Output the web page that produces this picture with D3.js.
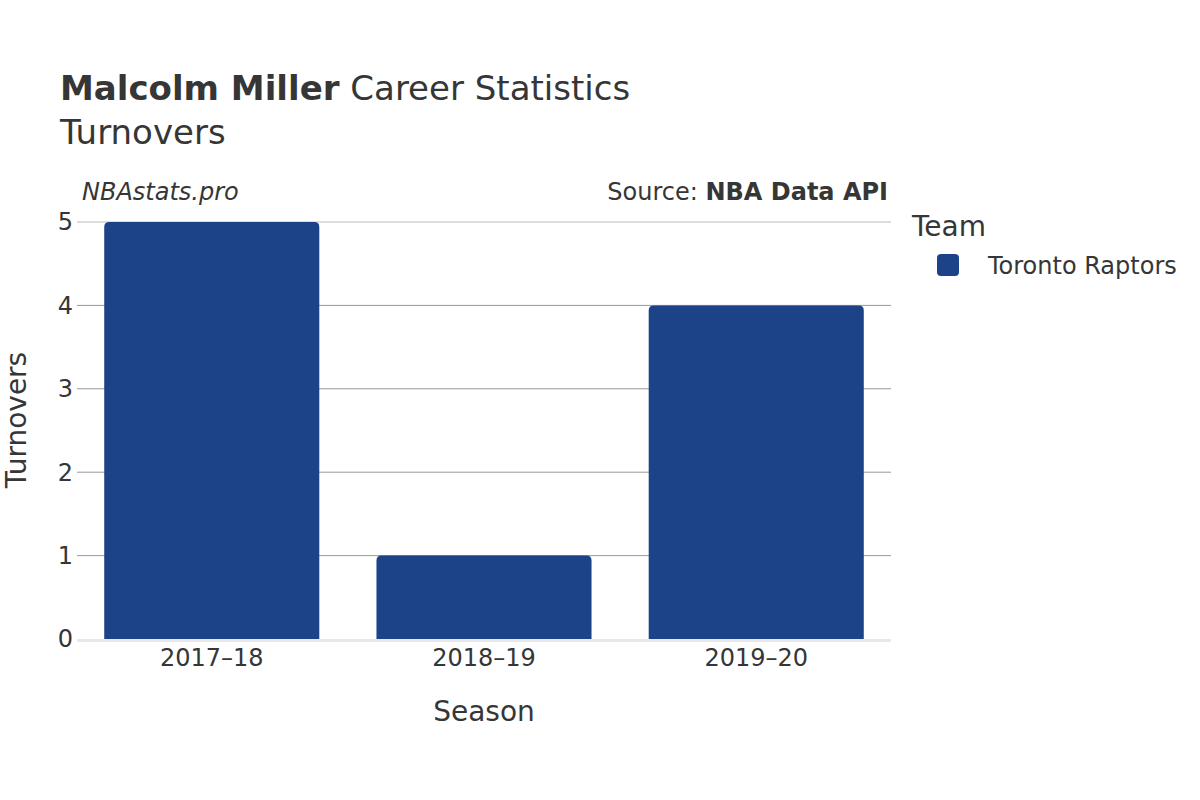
<!DOCTYPE html>
<html><head><meta charset="utf-8">
<script src="https://cdn.jsdelivr.net/npm/d3@7"></script>
<style>body{margin:0;background:#fff;} text{font-family:"DejaVu Sans",sans-serif;fill:#363636;}</style>
</head><body>
<svg id="c" width="1200" height="800"></svg>
<script>
const seasons = ["2017–18", "2018–19", "2019–20"];
const turnovers = [5, 1, 4];
const yTicks = [0, 1, 2, 3, 4, 5];
const teams = ["Toronto Raptors"];
const teamColors = ["#1c4288"];

const svg = d3.select("#c");
const m = {l: 77, r: 891, t: 222, b: 639};
const x = d3.scaleBand().domain(seasons).range([m.l, m.r]).paddingInner(0.21).paddingOuter(0.1);
const y = d3.scaleLinear().domain([0, 5]).range([m.b, m.t]);

// gridlines
svg.append("g").selectAll("line").data(yTicks.filter(d => d > 0)).join("line")
  .attr("x1", m.l).attr("x2", m.r).attr("y1", d => y(d)).attr("y2", d => y(d))
  .attr("stroke", d => d === 5 ? "#bbb" : "#999").attr("stroke-width", 1);

// bars with rounded top
const r = 5;
svg.append("g").selectAll("path").data(turnovers).join("path")
  .attr("fill", teamColors[0])
  .attr("d", (d, i) => {
    const x0 = x(seasons[i]), w = x.bandwidth(), y0 = y(d), yb = y(0);
    return `M${x0},${yb}V${y0 + r}Q${x0},${y0} ${x0 + r},${y0}H${x0 + w - r}Q${x0 + w},${y0} ${x0 + w},${y0 + r}V${yb}Z`;
  });

// zero line
svg.append("line").attr("x1", m.l).attr("x2", m.r).attr("y1", y(0) + 1.5).attr("y2", y(0) + 1.5)
  .attr("stroke", "#e8e8e8").attr("stroke-width", 3);

// y tick labels
svg.append("g").selectAll("text").data(yTicks).join("text")
  .attr("x", 73).attr("y", d => y(d)).attr("dy", "0.35em").attr("text-anchor", "end")
  .attr("font-size", 24).text(d => d);

// x tick labels
svg.append("g").selectAll("text").data(seasons).join("text")
  .attr("x", d => x(d) + x.bandwidth() / 2).attr("y", 666).attr("text-anchor", "middle")
  .attr("font-size", 24).text(d => d);

// axis titles
svg.append("text").attr("x", 484).attr("y", 721).attr("text-anchor", "middle").attr("font-size", 28).text("Season");
svg.append("text").attr("transform", "translate(26,420) rotate(-90)").attr("text-anchor", "middle").attr("font-size", 28).text("Turnovers");

// titles
const t = svg.append("text").attr("x", 60).attr("y", 100).attr("font-size", 34);
t.append("tspan").attr("font-weight", "bold").text("Malcolm Miller");
t.append("tspan").text(" Career Statistics");
svg.append("text").attr("x", 60).attr("y", 144).attr("font-size", 34).text("Turnovers");

svg.append("text").attr("x", 82).attr("y", 200).attr("font-size", 24).attr("font-style", "italic").text("NBAstats.pro");
const s = svg.append("text").attr("x", 888).attr("y", 200).attr("font-size", 24).attr("text-anchor", "end");
s.append("tspan").text("Source: ");
s.append("tspan").attr("font-weight", "bold").text("NBA Data API");

// legend
svg.append("text").attr("x", 912).attr("y", 236).attr("font-size", 28).text("Team");
const lg = svg.append("g").selectAll("g").data(teams).join("g");
lg.append("rect").attr("x", 937).attr("y", (d, i) => 254 + i * 30).attr("width", 22).attr("height", 22).attr("rx", 4)
  .attr("fill", (d, i) => teamColors[i]);
lg.append("text").attr("x", 988).attr("y", (d, i) => 266 + i * 30).attr("dy", "0.35em").attr("font-size", 24).text(d => d);
</script>
</body></html>
